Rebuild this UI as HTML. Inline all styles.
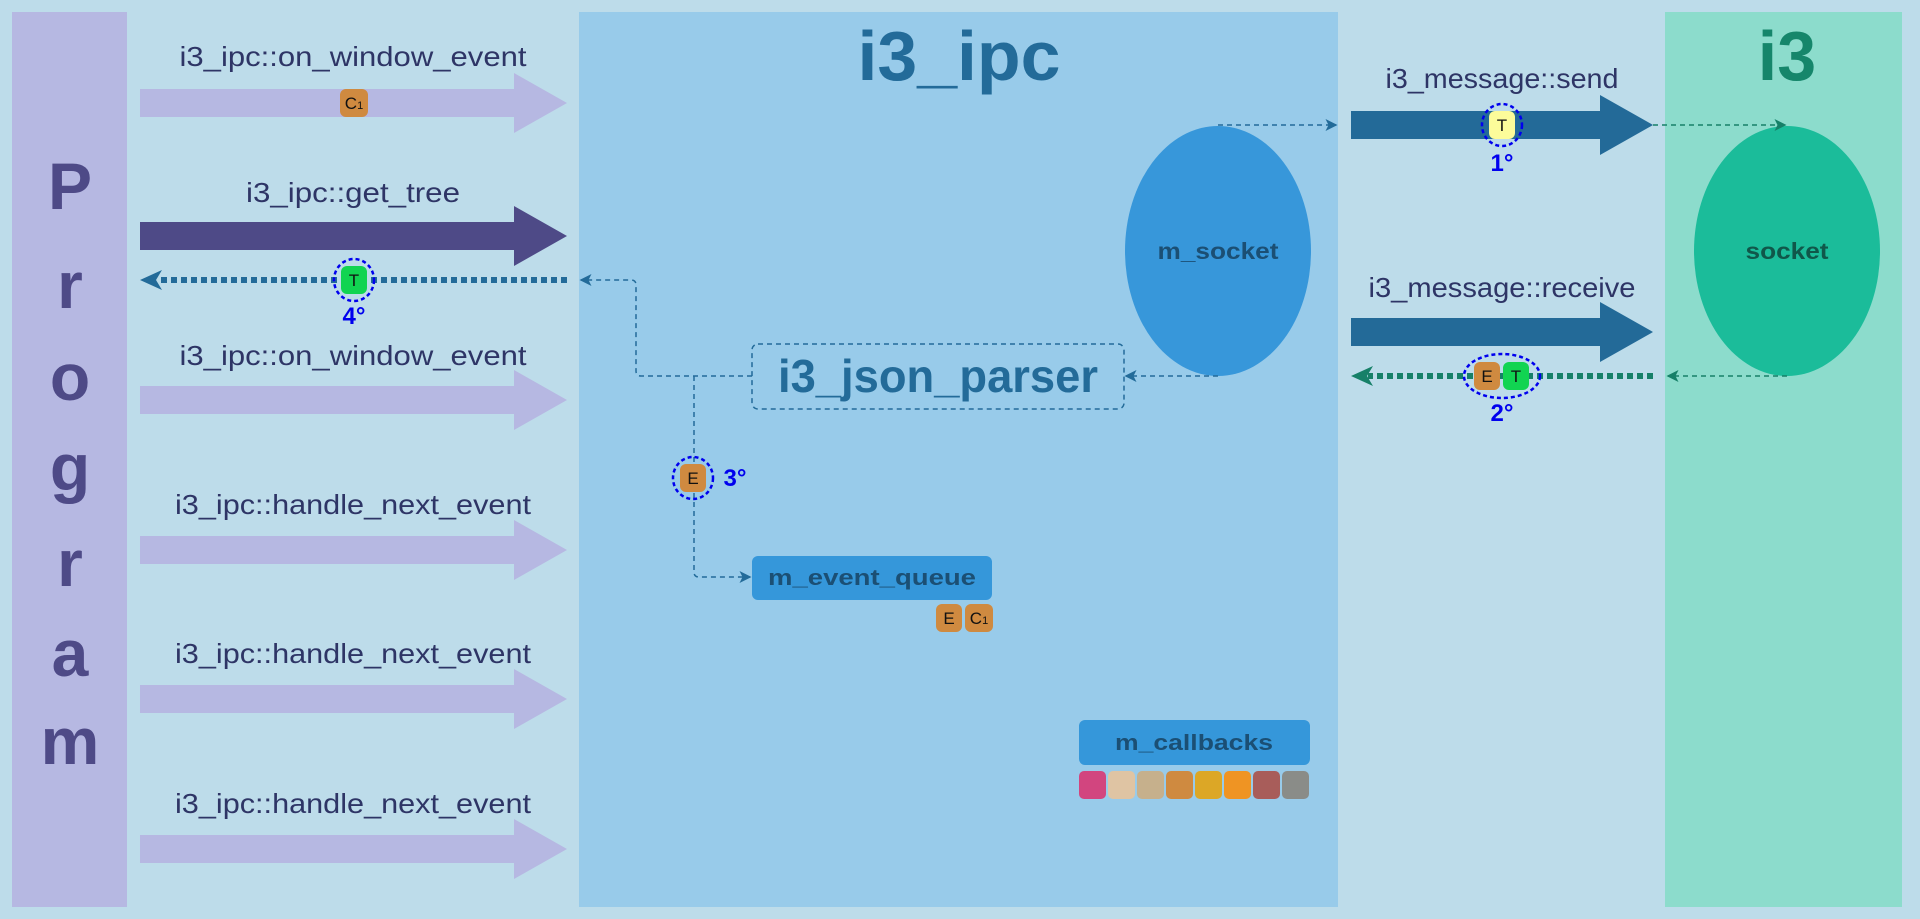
<!DOCTYPE html>
<html><head><meta charset="utf-8"><style>
html,body{margin:0;padding:0;background:#bddcea;}
svg{display:block;font-family:"Liberation Sans",sans-serif;}
</style></head><body>
<svg width="1920" height="919" viewBox="0 0 1920 919">
<defs>
<marker id="ah" markerWidth="8" markerHeight="8" refX="7" refY="4" orient="auto"><path d="M0,0 L8,4 L0,8 L2,4 Z" fill="#236b99"/></marker>
<marker id="ahg" markerWidth="8" markerHeight="8" refX="7" refY="4" orient="auto"><path d="M0,0 L8,4 L0,8 L2,4 Z" fill="#168068"/></marker>
</defs>
<rect width="1920" height="919" fill="#bddcea"/>
<rect x="12" y="12" width="115" height="895" fill="#b6b8e2"/>
<rect x="579" y="12" width="759" height="895" fill="#98cbea"/>
<rect x="1665" y="12" width="237" height="895" fill="#8cdccc"/>

<g fill="#4e4a87" font-weight="bold" font-size="66" text-anchor="middle">
<text x="70" y="209">P</text><text x="70" y="308">r</text><text x="70" y="400">o</text><text x="70" y="490">g</text><text x="70" y="586">r</text><text x="70" y="676">a</text><text x="70" y="764">m</text>
</g>
<text x="959" y="80" font-size="70" font-weight="bold" fill="#236b99" text-anchor="middle" textLength="203" lengthAdjust="spacingAndGlyphs">i3_ipc</text>
<text x="1787" y="80" font-size="70" font-weight="bold" fill="#16866b" text-anchor="middle">i3</text>

<g font-size="28" fill="#2e3566" text-anchor="middle">
<path d="M140,89 H514 V73 L567,103 L514,133 V117 H140 Z" fill="#b6b8e2"/>
<text x="353" y="66" textLength="347" lengthAdjust="spacingAndGlyphs">i3_ipc::on_window_event</text>
<path d="M140,222 H514 V206 L567,236 L514,266 V250 H140 Z" fill="#4e4a87"/>
<text x="353" y="202" textLength="214" lengthAdjust="spacingAndGlyphs">i3_ipc::get_tree</text>
<path d="M140,386 H514 V370 L567,400 L514,430 V414 H140 Z" fill="#b6b8e2"/>
<text x="353" y="365" textLength="347" lengthAdjust="spacingAndGlyphs">i3_ipc::on_window_event</text>
<path d="M140,536 H514 V520 L567,550 L514,580 V564 H140 Z" fill="#b6b8e2"/>
<text x="353" y="514" textLength="356" lengthAdjust="spacingAndGlyphs">i3_ipc::handle_next_event</text>
<path d="M140,685 H514 V669 L567,699 L514,729 V713 H140 Z" fill="#b6b8e2"/>
<text x="353" y="663" textLength="356" lengthAdjust="spacingAndGlyphs">i3_ipc::handle_next_event</text>
<path d="M140,835 H514 V819 L567,849 L514,879 V863 H140 Z" fill="#b6b8e2"/>
<text x="353" y="813" textLength="356" lengthAdjust="spacingAndGlyphs">i3_ipc::handle_next_event</text>
</g>

<!-- return dotted arrow -->
<line x1="567" y1="280" x2="158" y2="280" stroke="#236b99" stroke-width="6" stroke-dasharray="6,4"/>
<path d="M140,280 L162,270 L156,280 L162,290 Z" fill="#236b99"/>

<!-- send/receive -->
<path d="M1351,111 H1600 V95 L1653,125 L1600,155 V139 H1351 Z" fill="#236a98"/>
<text x="1502" y="88" font-size="28" fill="#2e3566" text-anchor="middle" textLength="233" lengthAdjust="spacingAndGlyphs">i3_message::send</text>
<path d="M1351,318 H1600 V302 L1653,332 L1600,362 V346 H1351 Z" fill="#236a98"/>
<text x="1502" y="297" font-size="28" fill="#2e3566" text-anchor="middle" textLength="267" lengthAdjust="spacingAndGlyphs">i3_message::receive</text>
<line x1="1653" y1="376" x2="1368" y2="376" stroke="#168068" stroke-width="6" stroke-dasharray="6,4"/>
<path d="M1351,376 L1373,366 L1367,376 L1373,386 Z" fill="#168068"/>

<!-- ellipses -->
<ellipse cx="1218" cy="251" rx="93" ry="125" fill="#3797da"/>
<text x="1218" y="259" font-size="23" font-weight="bold" fill="#1b4f74" text-anchor="middle" textLength="121" lengthAdjust="spacingAndGlyphs">m_socket</text>
<ellipse cx="1787" cy="251" rx="93" ry="125" fill="#1bbc9a"/>
<text x="1787" y="259" font-size="23" font-weight="bold" fill="#10574a" text-anchor="middle" textLength="83" lengthAdjust="spacingAndGlyphs">socket</text>

<!-- dashed connectors -->
<g fill="none" stroke="#236b99" stroke-width="1.5" stroke-dasharray="5,4">
<line x1="1218" y1="125" x2="1336" y2="125" marker-end="url(#ah)"/>
<line x1="1653" y1="125" x2="1785" y2="125" stroke="#168068" marker-end="url(#ahg)"/>
<line x1="1787" y1="376" x2="1668" y2="376" stroke="#168068" marker-end="url(#ahg)"/>
<line x1="1218" y1="376" x2="1126" y2="376" marker-end="url(#ah)"/>
<path d="M752,376 H641 Q636,376 636,371 V285 Q636,280 631,280 H581" marker-end="url(#ah)"/>
<path d="M694,376 V572 Q694,577 699,577 H750" marker-end="url(#ah)"/>
<rect x="752" y="344" width="372" height="65" rx="6"/>
</g>
<text x="938" y="392" font-size="46" font-weight="bold" fill="#236b99" text-anchor="middle" textLength="320" lengthAdjust="spacingAndGlyphs">i3_json_parser</text>

<!-- boxes -->
<rect x="752" y="556" width="240" height="44" rx="6" fill="#3597da"/>
<text x="872" y="585" font-size="22" font-weight="bold" fill="#1b4f74" text-anchor="middle" textLength="208" lengthAdjust="spacingAndGlyphs">m_event_queue</text>
<rect x="1079" y="720" width="231" height="45" rx="6" fill="#3597da"/>
<text x="1194" y="750" font-size="22" font-weight="bold" fill="#1b4f74" text-anchor="middle" textLength="158" lengthAdjust="spacingAndGlyphs">m_callbacks</text>
<g>
<rect x="1079" y="771" width="27" height="28" rx="5" fill="#d2457f"/>
<rect x="1108" y="771" width="27" height="28" rx="5" fill="#dfc4a3"/>
<rect x="1137" y="771" width="27" height="28" rx="5" fill="#c6b08c"/>
<rect x="1166" y="771" width="27" height="28" rx="5" fill="#cf8a40"/>
<rect x="1195" y="771" width="27" height="28" rx="5" fill="#dca726"/>
<rect x="1224" y="771" width="27" height="28" rx="5" fill="#ef9423"/>
<rect x="1253" y="771" width="27" height="28" rx="5" fill="#a85d5a"/>
<rect x="1282" y="771" width="27" height="28" rx="5" fill="#8a8c88"/>
</g>

<!-- badges -->
<g font-size="17" text-anchor="middle" fill="#111">
<rect x="340" y="89" width="28" height="28" rx="6" fill="#cf8a40"/><text x="354" y="109">C<tspan font-size="11">1</tspan></text>

<ellipse cx="354" cy="280" rx="20" ry="21" fill="none" stroke="#0000ee" stroke-width="2.5" stroke-dasharray="4,3"/>
<rect x="341" y="266" width="26" height="28" rx="6" fill="#11d451"/><text x="354" y="286">T</text>
<text x="354" y="324" font-size="24" font-weight="bold" fill="#0000ee">4°</text>

<ellipse cx="1502" cy="125" rx="20" ry="21" fill="none" stroke="#0000ee" stroke-width="2.5" stroke-dasharray="4,3"/>
<rect x="1489" y="111" width="26" height="28" rx="6" fill="#fcfc9a"/><text x="1502" y="131">T</text>
<text x="1502" y="171" font-size="24" font-weight="bold" fill="#0000ee">1°</text>

<ellipse cx="1502" cy="376" rx="38" ry="22" fill="none" stroke="#0000ee" stroke-width="2.5" stroke-dasharray="4,3"/>
<rect x="1474" y="362" width="26" height="28" rx="6" fill="#cf8a40"/><text x="1487" y="382">E</text>
<rect x="1503" y="362" width="26" height="28" rx="6" fill="#11d451"/><text x="1516" y="382">T</text>
<text x="1502" y="421" font-size="24" font-weight="bold" fill="#0000ee">2°</text>

<ellipse cx="693" cy="478" rx="20" ry="21" fill="none" stroke="#0000ee" stroke-width="2.5" stroke-dasharray="4,3"/>
<rect x="680" y="464" width="26" height="28" rx="6" fill="#cf8a40"/><text x="693" y="484">E</text>
<text x="735" y="486" font-size="24" font-weight="bold" fill="#0000ee">3°</text>

<rect x="936" y="604" width="26" height="28" rx="6" fill="#cf8a40"/><text x="949" y="624">E</text>
<rect x="965" y="604" width="28" height="28" rx="6" fill="#cf8a40"/><text x="979" y="624">C<tspan font-size="11">1</tspan></text>
</g>
</svg>
</body></html>
